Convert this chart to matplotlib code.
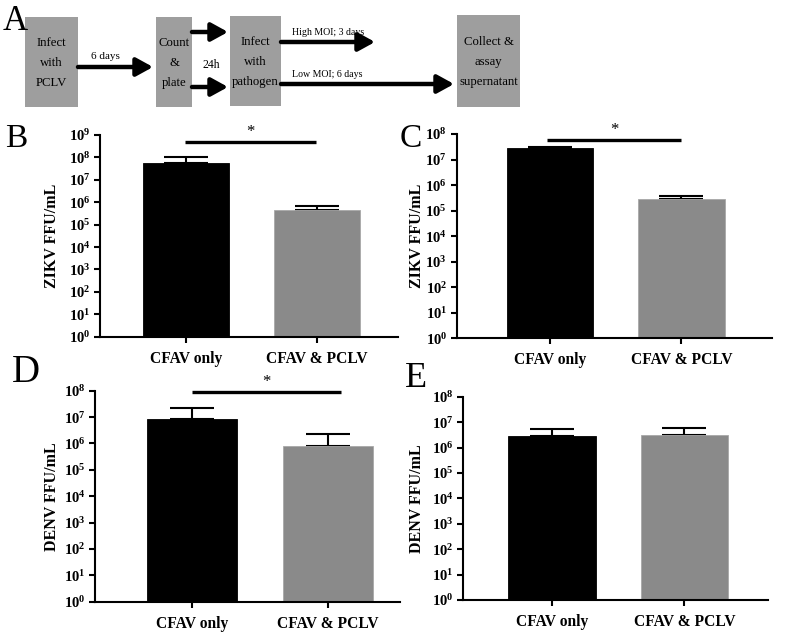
import matplotlib

matplotlib.use("Agg")
import matplotlib.pyplot as plt
from matplotlib.patches import Rectangle

plt.rcParams["font.family"] = ["Liberation Serif", "DejaVu Serif"]
plt.rcParams["mathtext.fontset"] = "custom"
plt.rcParams["mathtext.rm"] = "Liberation Serif"
plt.rcParams["mathtext.bf"] = "Liberation Serif:bold"

W, H = 800, 632

groups = ["CFAV only", "CFAV & PCLV"]
bar_colors = ["black", "#8a8a8a"]

# mean FFU/mL and upper error (SD) per panel
zikv_b_mean = [5.5e7, 4.5e5]
zikv_b_err = [4.5e7, 2.3e5]
zikv_c_mean = [2.95e7, 2.8e5]
zikv_c_err = [0.25e7, 1.1e5]
denv_d_mean = [8.3e6, 7.7e5]
denv_d_err = [1.37e7, 1.43e6]
denv_e_mean = [2.8e6, 3.0e6]
denv_e_err = [2.4e6, 2.9e6]

# diagram steps (panel A)
steps = ["Infect\nwith\nPCLV", "Count\n&\nplate", "Infect\nwith\npathogen",
         "Collect &\nassay\nsupernatant"]
step_labels = ["6 days", "24h", "High MOI; 3 days", "Low MOI; 6 days"]

fig = plt.figure(figsize=(W / 100, H / 100), dpi=100)


def px_axes(left, right, top, bottom):
    return fig.add_axes([left / W, (H - bottom) / H, (right - left) / W,
                         (bottom - top) / H])


# ---- panel A: workflow diagram in pixel coordinates ----
axd = fig.add_axes([0, 0, 1, 1], zorder=-1)
axd.set_xlim(0, W)
axd.set_ylim(H, 0)
axd.axis("off")

boxes = [(25, 78, 17, 107), (156, 192, 17, 107), (230, 281, 16, 106),
         (457, 520, 15, 107)]
for (x0, x1, y0, y1), txt in zip(boxes, steps):
    axd.add_patch(Rectangle((x0, y0), x1 - x0, y1 - y0, color="#9e9e9e", lw=0))
    axd.text((x0 + x1) / 2, (y0 + y1) / 2 + 1, txt, ha="center", va="center",
             fontsize=9.2, linespacing=1.85)

arrows = [(78, 153, 67), (192, 228, 32), (192, 228, 87), (281, 375, 42),
          (281, 454, 84)]
for x0, x1, y in arrows:
    axd.annotate("", xy=(x1, y), xytext=(x0, y),
                 arrowprops=dict(arrowstyle="-|>,head_length=1.0,head_width=0.55",
                                 lw=3.2, color="black", shrinkA=0, shrinkB=0))

axd.text(105, 59, step_labels[0], ha="center", va="baseline", fontsize=8)
axd.text(211, 68, step_labels[1], ha="center", va="baseline", fontsize=8.5)
axd.text(292, 35, step_labels[2], ha="left", va="baseline", fontsize=7.1)
axd.text(292, 77, step_labels[3], ha="left", va="baseline", fontsize=7.1)


def bar_panel(ax, means, errs, ylabel, top_exp, xlim, label_x, sig=None):
    x = [0, 1]
    ax.bar(x, means, width=0.66, color=bar_colors, bottom=1, zorder=2,
           edgecolor=["black", "#a8a8a8"], linewidth=0.6)
    ax.errorbar(x, means, yerr=[[0, 0], errs], fmt="none", ecolor="black",
                elinewidth=1.5, capsize=15.5, capthick=1.5, zorder=1)
    ax.set_yscale("log")
    ax.set_ylim(1, 10 ** top_exp)
    ax.set_xlim(*xlim)
    ticks = [10 ** k for k in range(top_exp + 1)]
    ax.set_yticks(ticks)
    ax.set_yticklabels([r"$\mathbf{10^{%d}}$" % k for k in range(top_exp + 1)],
                       fontsize=10.5)
    ax.minorticks_off()
    ax.set_xticks(x)
    ax.set_xticklabels(groups, fontsize=11.2, fontweight="bold")
    for s in ["top", "right"]:
        ax.spines[s].set_visible(False)
    for s in ["left", "bottom"]:
        ax.spines[s].set_linewidth(1.5)
    ax.tick_params(axis="both", length=4, width=1.5, pad=3)
    ax.tick_params(axis="x", pad=6)
    ax.set_ylabel(ylabel, fontsize=11.5, fontweight="bold")
    ax.yaxis.set_label_coords(label_x, 0.5)
    ax.set_facecolor("none")
    if sig is not None:
        x0, x1, y = sig
        ax.plot([x0, x1], [y, y], color="black", lw=2.4, clip_on=False,
                solid_capstyle="butt")
        ax.text((x0 + x1) / 2, y * 1.15, "*", ha="center", va="bottom",
                fontsize=12)


axB = px_axes(100, 398, 135, 336.7)
bar_panel(axB, zikv_b_mean, zikv_b_err, "ZIKV FFU/mL", 9, (-0.66, 1.62),
          -0.134, sig=(-0.01, 0.99, 5.0e8))

axC = px_axes(456.7, 772, 134, 338.3)
bar_panel(axC, zikv_c_mean, zikv_c_err, "ZIKV FFU/mL", 8, (-0.71, 1.69),
          -0.10, sig=(-0.02, 1.0, 6.0e7))

axD = px_axes(95, 400, 390.7, 601.7)
bar_panel(axD, denv_d_mean, denv_d_err, "DENV FFU/mL", 8, (-0.71, 1.53),
          -0.115, sig=(0.0, 1.1, 9.0e7))

axE = px_axes(463, 768, 396.7, 600)
bar_panel(axE, denv_e_mean, denv_e_err, "DENV FFU/mL", 8, (-0.67, 1.63),
          -0.125)

for letter, x, y, size in [("A", 3, 30, 25), ("B", 5, 147, 24),
                           ("C", 400, 147, 24), ("D", 12, 382, 28),
                           ("E", 405, 387, 26)]:
    axd.text(x, y, letter, ha="left", va="baseline", fontsize=size)

fig.savefig("out.png", dpi=100)
